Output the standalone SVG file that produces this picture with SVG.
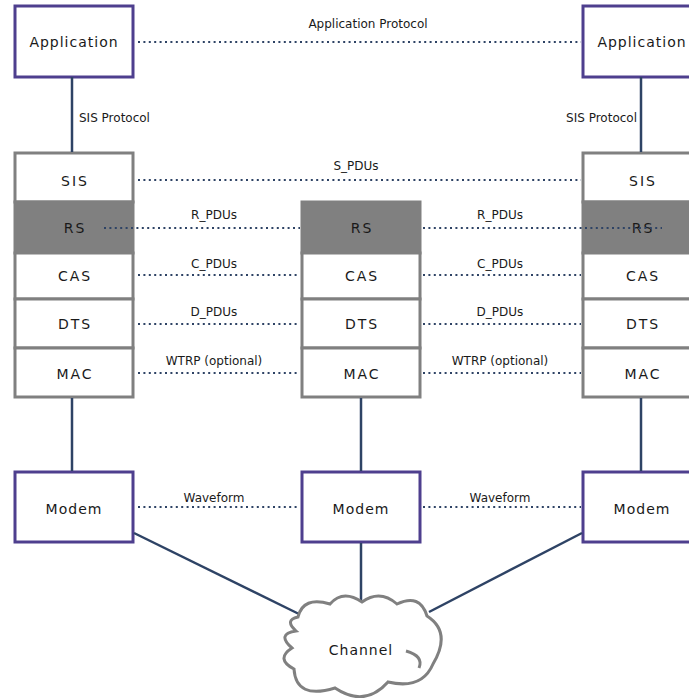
<svg xmlns="http://www.w3.org/2000/svg" width="689" height="698" viewBox="0 0 689 698">
<style>
.app{fill:#fff;stroke:#4e3f8e;stroke-width:3}
.lay{fill:#fff;stroke:#808080;stroke-width:3}
.rs{fill:#808080;stroke:#808080;stroke-width:3}
.nt{font-family:"DejaVu Sans",Verdana,sans-serif;font-size:14px;fill:#1a1a1a;text-anchor:middle;letter-spacing:2px}
.at{font-family:"DejaVu Sans",Verdana,sans-serif;font-size:14px;fill:#1a1a1a;text-anchor:middle;letter-spacing:1px}
.el{font-family:"DejaVu Sans",Verdana,sans-serif;font-size:12px;fill:#1a1a1a;text-anchor:middle}
.sol{stroke:#2e4365;stroke-width:2.5;fill:none}
.dot{stroke:#2e4365;stroke-width:2;fill:none;stroke-dasharray:2 3.4}
</style>
<g id="app-left"><rect class="app" x="15" y="6" width="118" height="71"/><text class="at" x="74" y="47">Application</text></g>
<g id="app-right"><rect class="app" x="583" y="6" width="118" height="71"/><text class="at" x="642" y="47">Application</text></g>

<g id="stack-left">
<rect class="lay" x="15" y="153" width="118" height="49"/><text class="nt" x="75" y="186">SIS</text>
<rect class="rs" x="15" y="202" width="118" height="51"/><text class="nt" x="75" y="233">RS</text>
<rect class="lay" x="15" y="253" width="118" height="46"/><text class="nt" x="75" y="281">CAS</text>
<rect class="lay" x="15" y="299" width="118" height="49"/><text class="nt" x="75" y="329">DTS</text>
<rect class="lay" x="15" y="348" width="118" height="49"/><text class="nt" x="75" y="379">MAC</text>
</g>
<g id="stack-middle">
<rect class="rs" x="302" y="202" width="118" height="51"/><text class="nt" x="362" y="233">RS</text>
<rect class="lay" x="302" y="253" width="118" height="46"/><text class="nt" x="362" y="281">CAS</text>
<rect class="lay" x="302" y="299" width="118" height="49"/><text class="nt" x="362" y="329">DTS</text>
<rect class="lay" x="302" y="348" width="118" height="49"/><text class="nt" x="362" y="379">MAC</text>
</g>
<g id="stack-right">
<rect class="lay" x="583" y="153" width="118" height="49"/><text class="nt" x="643" y="186">SIS</text>
<rect class="rs" x="583" y="202" width="118" height="51"/><text class="nt" x="643" y="233">RS</text>
<rect class="lay" x="583" y="253" width="118" height="46"/><text class="nt" x="643" y="281">CAS</text>
<rect class="lay" x="583" y="299" width="118" height="49"/><text class="nt" x="643" y="329">DTS</text>
<rect class="lay" x="583" y="348" width="118" height="49"/><text class="nt" x="643" y="379">MAC</text>
</g>
<g id="modem-left"><rect class="app" x="15" y="472" width="118" height="70"/><text class="at" x="74" y="514">Modem</text></g>
<g id="modem-middle"><rect class="app" x="302" y="472" width="118" height="70"/><text class="at" x="361" y="514">Modem</text></g>
<g id="modem-right"><rect class="app" x="583" y="472" width="118" height="70"/><text class="at" x="642" y="514">Modem</text></g>

<g id="connectors">
<line class="sol" x1="72" y1="77" x2="72" y2="152"/>
<line class="sol" x1="641" y1="77" x2="641" y2="152"/>
<line class="sol" x1="72" y1="398" x2="72" y2="471"/>
<line class="sol" x1="361" y1="398" x2="361" y2="471"/>
<line class="sol" x1="641" y1="398" x2="641" y2="471"/>
<line class="sol" x1="134" y1="533" x2="299" y2="614"/>
<line class="sol" x1="361" y1="543" x2="361" y2="603"/>
<line class="sol" x1="582" y1="533" x2="429" y2="612"/>
<line class="dot" x1="138" y1="42" x2="581" y2="42"/>
<line class="dot" x1="138" y1="180" x2="581" y2="180"/>
<line class="dot" x1="104" y1="228" x2="300" y2="228"/>
<line class="dot" x1="423" y1="228" x2="662" y2="228"/>
<line class="dot" x1="138" y1="275" x2="300" y2="275"/>
<line class="dot" x1="423" y1="275" x2="581" y2="275"/>
<line class="dot" x1="138" y1="324" x2="300" y2="324"/>
<line class="dot" x1="423" y1="324" x2="581" y2="324"/>
<line class="dot" x1="138" y1="373" x2="300" y2="373"/>
<line class="dot" x1="423" y1="373" x2="581" y2="373"/>
<line class="dot" x1="138" y1="507" x2="300" y2="507"/>
<line class="dot" x1="423" y1="507" x2="581" y2="507"/>
<text class="el" x="368" y="28">Application Protocol</text>
<text class="el" x="79" y="122" style="text-anchor:start">SIS Protocol</text>
<text class="el" x="637" y="122" style="text-anchor:end">SIS Protocol</text>
<text class="el" x="356" y="170">S_PDUs</text>
<text class="el" x="214" y="219">R_PDUs</text>
<text class="el" x="500" y="219">R_PDUs</text>
<text class="el" x="214" y="268">C_PDUs</text>
<text class="el" x="500" y="268">C_PDUs</text>
<text class="el" x="214" y="316">D_PDUs</text>
<text class="el" x="500" y="316">D_PDUs</text>
<text class="el" x="214" y="365">WTRP (optional)</text>
<text class="el" x="500" y="365">WTRP (optional)</text>
<text class="el" x="214" y="502">Waveform</text>
<text class="el" x="500" y="502">Waveform</text>
</g>

<g id="channel">
<path d="M298 617 Q303 596 330 604 Q343 589 362 602 Q380 589 397 604 Q420 593 427 616 Q452 632 433 664 Q422 690 388 682 Q365 708 335 688 Q296 700 294 669 Q275 659 292 648 Q276 634 296 631 Q284 620 298 617 Z" fill="#fff" stroke="#808080" stroke-width="3"/>
<path d="M406 651 Q424 656 419 668" fill="none" stroke="#808080" stroke-width="3"/>
<text class="at" x="361" y="655">Channel</text>
</g>
</svg>
